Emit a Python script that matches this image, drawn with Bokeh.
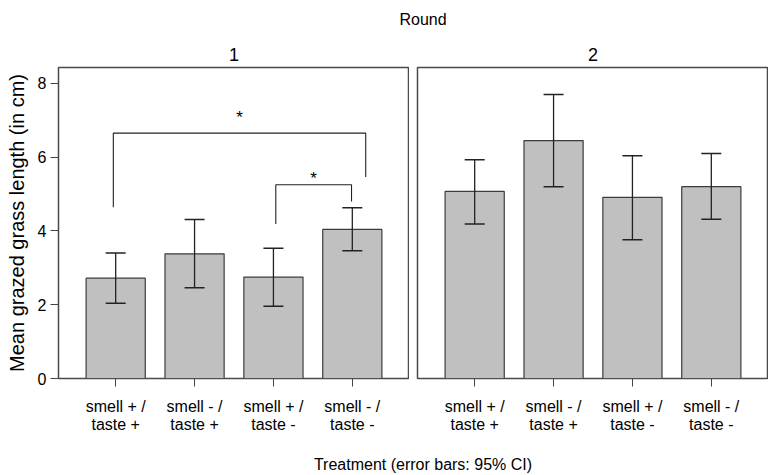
from bokeh.plotting import figure
from bokeh.layouts import column, row
from bokeh.models import Range1d, FixedTicker, Div, ColumnDataSource, Whisker, TeeHead
from bokeh.embed import file_html
from bokeh.resources import INLINE
from bokeh.core.properties import value

# ---- data ----
categories = ["smell + /\ntaste +", "smell - /\ntaste +", "smell + /\ntaste -", "smell - /\ntaste -"]
positions = [1, 2, 3, 4]
rounds = ["1", "2"]
round1_mean = [2.72, 3.38, 2.75, 4.04]
round1_lower = [2.04, 2.46, 1.96, 3.46]
round1_upper = [3.40, 4.31, 3.53, 4.63]
round2_mean = [5.07, 6.45, 4.91, 5.20]
round2_lower = [4.19, 5.20, 3.76, 4.32]
round2_upper = [5.93, 7.70, 6.04, 6.10]
y_ticks = [0, 2, 4, 6, 8]
# significance brackets (round 1)
bracket_x0 = [0.97, 3.03]
bracket_x1 = [4.17, 3.99]
bracket_top = [6.65, 5.25]
bracket_y0 = [4.64, 4.19]
bracket_y1 = [5.46, 4.80]
star_y = [7.08, 5.41]
star_text = ["*", "*"]

FONT = "Liberation Sans"
FRAME_W = 351
FRAME_H = 311
LEFT = 58
GAP = 8
TOP_DIV_H = 34
BOTTOM_DIV_H = 32


def make_panel(title, means, lows, highs, show_y):
    p = figure(
        title=title,
        frame_width=FRAME_W, frame_height=FRAME_H,
        x_range=Range1d(0.275, 4.725), y_range=Range1d(0, 8.43),
        output_backend="svg", toolbar_location=None,
        y_axis_location="left" if show_y else None,
        min_border_left=LEFT if show_y else GAP, min_border_right=0,
        min_border_top=33, min_border_bottom=64,
        background_fill_color="white", border_fill_color="white",
    )
    p.title.align = "center"
    p.title.text_font = FONT
    p.title.text_font_size = "18px"
    p.title.text_font_style = "normal"
    p.title.text_color = "black"
    p.title.standoff = 14
    p.grid.visible = False
    p.outline_line_color = "#4a4a4a"
    p.outline_line_width = 1.5

    p.vbar(x=positions, top=means, bottom=0, width=0.75,
           fill_color="#c0c0c0", line_color="#3c3c3c", line_width=1.2)

    src = ColumnDataSource(dict(x=positions, lower=lows, upper=highs))
    w = Whisker(base="x", lower="lower", upper="upper", source=src,
                line_color="#222222", line_width=1.3, level="overlay",
                upper_head=TeeHead(size=20, line_color="#222222", line_width=1.5),
                lower_head=TeeHead(size=20, line_color="#222222", line_width=1.5))
    p.add_layout(w)

    ax = p.xaxis[0]
    ax.ticker = FixedTicker(ticks=positions)
    ax.major_label_overrides = {pos: lab for pos, lab in zip(positions, categories)}
    ax.axis_line_color = None
    ax.major_tick_out = 8
    ax.major_tick_in = 0
    ax.minor_tick_line_color = None
    ax.major_tick_line_color = "#444444"
    ax.major_label_text_font = FONT
    ax.major_label_text_font_size = "16px"
    ax.major_label_text_color = "black"
    ax.major_label_text_line_height = 1.1
    ax.major_label_standoff = 11

    if show_y:
        ay = p.yaxis[0]
        ay.ticker = FixedTicker(ticks=y_ticks)
        ay.axis_line_color = None
        ay.major_tick_out = 8
        ay.major_tick_in = 0
        ay.minor_tick_line_color = None
        ay.major_tick_line_color = "#444444"
        ay.major_label_text_font = FONT
        ay.major_label_text_font_size = "16px"
        ay.major_label_text_color = "black"
        ay.major_label_standoff = 4
        ay.axis_label = "Mean grazed grass length (in cm)"
        ay.axis_label_text_font = FONT
        ay.axis_label_text_font_size = "20px"
        ay.axis_label_text_font_style = "normal"
        ay.axis_label_text_color = "black"
        ay.axis_label_standoff = 7
    return p


p1 = make_panel(rounds[0], round1_mean, round1_lower, round1_upper, True)
p2 = make_panel(rounds[1], round2_mean, round2_lower, round2_upper, False)

# significance brackets on round 1
xs = [[a, a, b, b] for a, b in zip(bracket_x0, bracket_x1)]
ys = [[y0, t, t, y1] for y0, t, y1 in zip(bracket_y0, bracket_top, bracket_y1)]
p1.multi_line(xs=xs, ys=ys, line_color="#222222", line_width=1.1)
p1.text(x=[(a + b) / 2 for a, b in zip(bracket_x0, bracket_x1)], y=star_y, text=star_text,
        text_font=value(FONT), text_font_size="17px", text_align="center",
        text_baseline="middle", text_color="black")

TOTAL_W = LEFT + FRAME_W + GAP + FRAME_W
inner = 2 * FRAME_W + GAP
div_style = ("width:%dpx;margin-left:%dpx;padding-top:%dpx;text-align:center;"
             "font-family:'Liberation Sans';font-size:16px;color:black;line-height:18px")
top_div = Div(text='<div style="%s">Round</div>' % (div_style % (inner, LEFT + 10, 11)),
              width=TOTAL_W, height=TOP_DIV_H, margin=0)
bottom_div = Div(text='<div style="%s">Treatment (error bars: 95%% CI)</div>' % (div_style % (inner, LEFT + 10, 14)),
                 width=TOTAL_W, height=BOTTOM_DIV_H, margin=0)

layout = column(top_div, row(p1, p2), bottom_div)
open("out.html", "w").write(file_html(layout, INLINE))
